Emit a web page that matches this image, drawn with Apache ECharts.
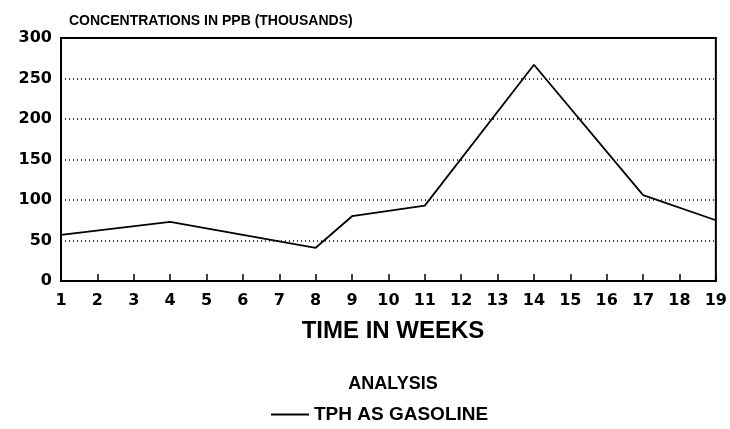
<!DOCTYPE html>
<html><head><meta charset="utf-8">
<script src="https://cdn.jsdelivr.net/npm/echarts@6/dist/echarts.min.js"></script>
<style>html,body{margin:0;padding:0;background:#fff}#c{width:730px;height:429px}</style>
</head><body><div id="c"></div>
<script>
var weeks = [1, 4, 8, 9, 11, 14, 17, 19];
var tph = [57, 73, 41, 80, 93, 267, 106, 75];
var yTicks = [0, 50, 100, 150, 200, 250, 300];
var seriesName = 'TPH AS GASOLINE';

var chart = echarts.init(document.getElementById('c'));
var F = 'Liberation Sans, Arial, sans-serif';
var D = 'DejaVu Sans, sans-serif';
chart.setOption({
  animation: false,
  backgroundColor: '#fff',
  title: [
    {text: 'CONCENTRATIONS IN PPB (THOUSANDS)', left: 64, top: 9,
     textStyle: {fontFamily: F, fontSize: 14, fontWeight: 'bold', color: '#000'}},
    {text: 'TIME IN WEEKS', left: 388, top: 314, textAlign: 'center',
     textStyle: {fontFamily: F, fontSize: 24, fontWeight: 'bold', color: '#000'}},
    {text: 'ANALYSIS', left: 388, top: 370, textAlign: 'center',
     textStyle: {fontFamily: F, fontSize: 18, fontWeight: 'bold', color: '#000'}}
  ],
  legend: {
    data: [{name: seriesName, icon: 'rect'}], left: 266, top: 400,
    itemWidth: 38, itemHeight: 2, itemGap: 8,
    textStyle: {fontFamily: F, fontSize: 19, fontWeight: 'bold', color: '#000'}
  },
  grid: {left: 61, right: 12, top: 38, bottom: 148, show: true, borderColor: '#000', borderWidth: 2},
  xAxis: {
    type: 'value', min: 1, max: 19, interval: 1,
    axisLine: {lineStyle: {color: '#000', width: 2}},
    axisTick: {inside: true, length: 7, lineStyle: {color: '#000', width: 1.5}},
    axisLabel: {fontFamily: D, fontSize: 16, fontWeight: 'bold', color: '#000', margin: 12},
    splitLine: {show: false}
  },
  yAxis: {
    type: 'value', min: 0, max: 300, interval: 50,
    axisLine: {show: true, lineStyle: {color: '#000', width: 2}},
    axisTick: {show: false},
    axisLabel: {fontFamily: D, fontSize: 16, fontWeight: 'bold', color: '#000', margin: 9,
      formatter: function (v) { return yTicks.indexOf(v) >= 0 ? String(v) : ''; }},
    splitLine: {show: true, lineStyle: {color: '#000', type: [1, 3], width: 1.5}}
  },
  series: [{
    name: seriesName, type: 'line',
    data: weeks.map(function (w, i) { return [w, tph[i]]; }),
    symbol: 'none',
    lineStyle: {color: '#000', width: 1.8},
    itemStyle: {color: '#000'}
  }]
});
</script></body></html>
